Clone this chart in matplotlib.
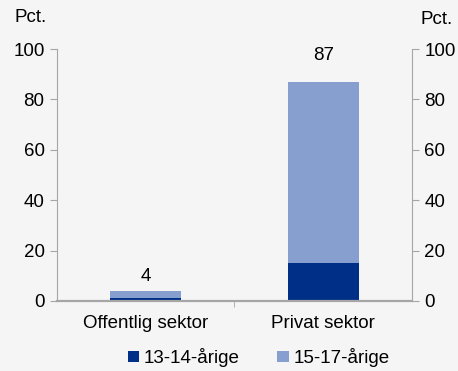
import matplotlib.pyplot as plt
import numpy as np

plt.rcParams["font.family"] = ["Liberation Sans", "DejaVu Sans"]

categories = ["Offentlig sektor", "Privat sektor"]
young = [1, 15]      # 13-14-årige
older = [3, 72]      # 15-17-årige
totals = [4, 87]
series_names = ["13-14-årige", "15-17-årige"]

DARK = "#002f87"
LIGHT = "#879fcf"
BG = "#f5f5f5"
GRID = "#a6a6a6"
FS = 13.5


def main():
    fig = plt.figure(figsize=(4.58, 3.71), dpi=100, facecolor=BG)
    ax = fig.add_axes([0.1245, 0.1887, 0.775, 0.679])
    ax.set_facecolor(BG)

    x = np.arange(len(categories))
    ax.bar(x, young, width=0.4, color=DARK, label=series_names[0], zorder=2)
    ax.bar(x, older, width=0.4, bottom=young, color=LIGHT, label=series_names[1], zorder=2)
    pads = [2.5, 7]
    for xi, t, p in zip(x, totals, pads):
        ax.text(xi, t + p, str(t), ha="center", va="bottom", fontsize=FS)

    ax.set_xlim(-0.5, 1.5)
    ax.set_ylim(0, 100)
    ax.set_yticks(range(0, 101, 20))
    ax.set_xticks(x)
    ax.set_xticklabels(categories, fontsize=FS)
    ax.set_xticks([0.5], minor=True)
    ax.tick_params(axis="x", which="major", length=0, pad=10)
    ax.tick_params(axis="x", which="minor", length=4, direction="out", color=GRID)
    ax.tick_params(axis="y", labelsize=FS, direction="out", length=5, color=GRID,
                   left=True, right=True, labelleft=True, labelright=True, pad=4)

    for side in ("left", "right"):
        ax.spines[side].set_color(GRID)
        ax.spines[side].set_linewidth(0.8)
    ax.spines["top"].set_visible(False)
    ax.spines["bottom"].set_color(GRID)
    ax.spines["bottom"].set_linewidth(1.6)

    fig.text(14 / 458, 1 - 17 / 371, "Pct.", fontsize=FS, va="center", ha="left")
    fig.text(420 / 458, 1 - 20 / 371, "Pct.", fontsize=FS, va="center", ha="left")

    ax.legend(loc="upper center", bbox_to_anchor=(0.568, -0.12), ncol=2, frameon=False,
              fontsize=FS, handlelength=0.6, handleheight=0.6, handletextpad=0.25,
              columnspacing=2.0)

    fig.savefig("out.png", dpi=100, facecolor=BG)


if __name__ == "__main__":
    main()
